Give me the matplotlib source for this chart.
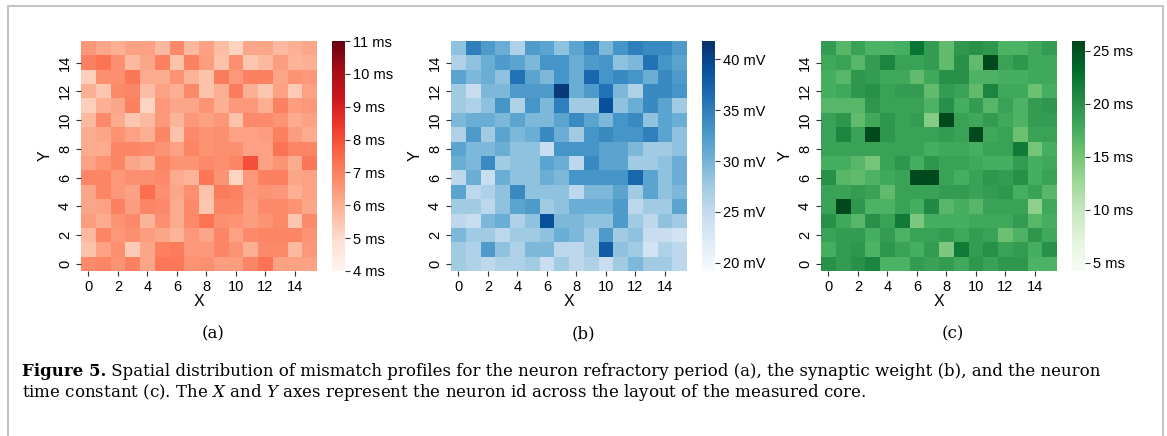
"""Spatial mismatch heatmaps (refractory period, synaptic weight, time constant)."""

import matplotlib.pyplot as plt
import numpy as np
from matplotlib.patches import Rectangle

W_PX, H_PX = 1167, 436
DPI = 100

NEURON_IDS = list(range(16))
TICK_IDS = list(range(0, 16, 2))

# rows listed from Y=15 (top) down to Y=0 (bottom)
REFRACTORY_MS = [
    [6.5, 6.2, 6.0, 6.3, 6.3, 5.8, 6.8, 5.8, 6.3, 5.7, 5.2, 6.2, 6.2, 5.8, 6.0, 6.2],
    [7.0, 7.3, 6.7, 5.8, 6.2, 7.0, 5.6, 7.0, 6.4, 5.6, 6.7, 5.5, 5.8, 6.4, 5.9, 6.0],
    [5.3, 6.7, 6.7, 7.2, 6.1, 6.1, 6.6, 5.9, 5.6, 7.1, 6.5, 7.0, 7.0, 6.2, 6.6, 6.5],
    [6.0, 5.5, 6.8, 6.9, 5.7, 6.3, 6.0, 6.8, 5.6, 6.0, 7.1, 6.0, 5.5, 6.3, 5.4, 6.3],
    [5.3, 6.0, 6.2, 7.0, 5.2, 6.5, 6.2, 6.2, 6.6, 6.0, 6.5, 6.5, 6.0, 7.0, 6.4, 6.5],
    [5.8, 6.8, 6.1, 5.5, 5.8, 6.5, 5.9, 6.5, 6.3, 6.5, 5.6, 6.8, 6.8, 6.6, 6.1, 6.3],
    [6.1, 6.2, 6.6, 6.3, 6.0, 6.9, 5.6, 6.8, 6.6, 6.7, 6.3, 6.3, 6.4, 7.0, 6.4, 6.1],
    [6.1, 6.1, 6.9, 6.9, 6.8, 6.6, 6.3, 6.9, 6.6, 6.7, 6.7, 6.3, 6.3, 7.3, 6.9, 6.9],
    [6.3, 6.6, 6.9, 6.2, 6.0, 6.9, 6.6, 6.6, 6.8, 6.7, 6.9, 8.0, 6.3, 6.6, 6.1, 7.2],
    [6.9, 6.9, 6.5, 6.7, 6.7, 6.8, 6.1, 5.9, 7.2, 6.6, 5.2, 6.5, 7.0, 7.0, 6.2, 6.3],
    [6.2, 6.9, 6.5, 6.3, 7.4, 6.7, 6.2, 6.7, 5.6, 7.1, 7.0, 6.5, 6.6, 6.5, 6.0, 6.3],
    [6.2, 6.3, 7.0, 6.4, 6.9, 6.8, 6.1, 6.8, 5.5, 6.9, 6.9, 6.4, 6.8, 6.8, 6.6, 6.2],
    [6.4, 6.1, 6.6, 6.8, 5.9, 6.7, 6.1, 6.8, 7.3, 6.7, 6.6, 6.4, 6.6, 6.8, 5.5, 6.8],
    [5.8, 6.9, 6.5, 6.7, 6.4, 6.2, 5.9, 6.5, 6.2, 6.9, 6.3, 6.8, 6.9, 6.9, 6.9, 6.6],
    [5.6, 6.3, 6.7, 5.4, 6.2, 7.0, 7.1, 6.5, 6.5, 6.9, 6.6, 6.0, 6.8, 6.8, 5.8, 6.5],
    [6.8, 6.9, 6.6, 7.0, 6.2, 7.2, 7.2, 6.6, 6.7, 6.4, 6.4, 6.9, 7.3, 6.3, 6.3, 6.3],
]

SYN_WEIGHT_MV = [
    [28.5, 35, 32.5, 30.5, 26.5, 32.5, 31.5, 28.5, 31.5, 34, 29.5, 33, 35, 34, 34, 32.5],
    [26.5, 28.5, 30.5, 32.5, 31.5, 29.5, 33, 33, 30.5, 32.5, 33, 28.5, 29.5, 36, 33, 31.5],
    [31.5, 29.5, 30.5, 28.5, 36, 31.5, 29.5, 33, 30.5, 37, 33, 34, 33, 30.5, 34, 32.5],
    [27.5, 24.5, 29.5, 29.5, 32.5, 32.5, 32.5, 41, 30.5, 32.5, 36, 29.5, 26.5, 34, 34, 33],
    [27.5, 26.5, 28.5, 33, 26.5, 33, 29.5, 35, 27.5, 27.5, 39, 28.5, 30.5, 34, 31.5, 27.5],
    [29.5, 30.5, 30.5, 29.5, 31.5, 29.5, 29.5, 31.5, 34, 31.5, 29.5, 33, 34, 28.5, 31.5, 30.5],
    [26.5, 32.5, 27.5, 31.5, 29.5, 30.5, 34, 30.5, 27.5, 33, 34, 33, 33, 35, 31.5, 28.5],
    [31.5, 29.5, 29.5, 30.5, 28.5, 28.5, 24.5, 33, 33, 33, 31.5, 31.5, 29.5, 27.5, 27.5, 28.5],
    [30.5, 29.5, 34, 27.5, 28.5, 28.5, 31.5, 30.5, 25.5, 34, 31.5, 31.5, 27.5, 27.5, 28.5, 30.5],
    [25.5, 30.5, 24.5, 30.5, 28.5, 28.5, 30.5, 29.5, 33, 33, 33, 33, 37, 31.5, 28.5, 30.5],
    [31.5, 25.5, 26.5, 28.5, 34, 28.5, 28.5, 28.5, 25.5, 29.5, 29.5, 31.5, 27.5, 31.5, 28.5, 29.5],
    [27.5, 27.5, 25.5, 28.5, 31.5, 32.5, 27.5, 28.5, 30.5, 30.5, 30.5, 32.5, 25.5, 27.5, 27.5, 31.5],
    [25.5, 24.5, 29.5, 30.5, 26.5, 28.5, 39, 29.5, 29.5, 28.5, 28.5, 32.5, 27.5, 25.5, 28.5, 27.5],
    [29.5, 27.5, 27.5, 25.5, 27.5, 27.5, 28.5, 30.5, 29.5, 27.5, 32.5, 27.5, 28.5, 24.5, 24.5, 23.5],
    [27.5, 26.5, 32.5, 28.5, 26.5, 29.5, 29.5, 25.5, 25.5, 27.5, 38, 28.5, 27.5, 23.5, 26.5, 25.5],
    [27.5, 26.5, 25.5, 26.5, 26.5, 27.5, 24.5, 27.5, 25.5, 26.5, 24.5, 27.5, 29.5, 27.5, 27.5, 25.5],
]

TIME_CONST_MS = [
    [19.0, 16.5, 18.5, 17.0, 17.0, 17.5, 22.5, 19.0, 16.0, 19.5, 20.0, 19.5, 17.0, 17.0, 18.0, 19.0],
    [18.0, 18.5, 16.5, 19.0, 21.0, 18.5, 18.5, 19.0, 16.0, 20.0, 16.0, 25.5, 18.5, 19.5, 18.0, 18.0],
    [17.5, 16.5, 19.5, 19.0, 18.0, 18.0, 16.0, 18.0, 20.0, 20.0, 17.0, 17.0, 17.5, 17.5, 18.0, 18.0],
    [17.5, 18.0, 19.5, 20.0, 18.5, 19.0, 19.0, 16.0, 19.0, 18.5, 16.0, 21.0, 18.0, 18.0, 15.5, 17.5],
    [16.5, 16.5, 16.5, 19.5, 18.5, 18.5, 18.5, 17.0, 20.0, 17.5, 19.0, 16.5, 18.5, 17.0, 19.0, 19.5],
    [18.5, 19.5, 16.0, 18.0, 19.5, 18.5, 19.0, 14.0, 25.5, 18.5, 18.0, 19.0, 18.0, 17.0, 19.0, 19.0],
    [18.5, 21.0, 18.5, 25.5, 19.5, 18.5, 18.5, 18.5, 19.0, 18.5, 25.5, 18.0, 18.5, 15.5, 18.5, 18.5],
    [18.5, 18.5, 18.5, 18.5, 18.5, 18.5, 18.5, 17.5, 18.0, 18.0, 17.5, 18.5, 18.5, 22.0, 15.0, 17.5],
    [17.5, 17.5, 16.5, 15.0, 18.5, 19.5, 17.5, 19.5, 18.5, 18.5, 18.0, 17.5, 17.5, 19.0, 17.5, 18.0],
    [20.0, 16.5, 16.0, 17.0, 18.0, 18.5, 25.5, 25.5, 18.5, 17.5, 18.5, 19.5, 19.0, 20.0, 17.5, 18.5],
    [18.5, 18.5, 19.0, 18.5, 16.0, 18.5, 18.5, 18.5, 19.0, 19.0, 18.5, 19.0, 19.5, 17.5, 18.5, 16.5],
    [18.5, 25.5, 19.5, 17.0, 17.0, 18.5, 17.5, 20.5, 16.5, 17.5, 16.5, 18.5, 18.5, 18.5, 13.5, 18.0],
    [20.0, 18.0, 16.5, 20.0, 18.5, 22.0, 14.5, 17.5, 17.5, 17.5, 18.0, 18.0, 18.0, 19.0, 16.5, 17.5],
    [18.5, 19.0, 19.0, 17.5, 19.0, 17.0, 18.5, 18.5, 19.0, 18.0, 19.0, 18.5, 15.5, 17.0, 19.5, 18.0],
    [17.5, 19.0, 19.5, 17.0, 19.5, 18.5, 17.5, 19.0, 14.5, 22.0, 19.0, 20.0, 18.5, 19.0, 17.5, 20.0],
    [20.0, 19.0, 20.0, 21.0, 17.0, 17.0, 19.0, 18.5, 19.0, 18.0, 19.5, 18.5, 19.5, 19.5, 17.0, 17.0],
]

PANELS = [
    dict(data=REFRACTORY_MS, cmap="Reds", vmin=4.0, vmax=11.0,
         cticks=[4, 5, 6, 7, 8, 9, 10, 11], unit="ms", tag="(a)", left=81),
    dict(data=SYN_WEIGHT_MV, cmap="Blues", vmin=19.2, vmax=41.8,
         cticks=[20, 25, 30, 35, 40], unit="mV", tag="(b)", left=451),
    dict(data=TIME_CONST_MS, cmap="Greens", vmin=4.2, vmax=25.9,
         cticks=[5, 10, 15, 20, 25], unit="ms", tag="(c)", left=821),
]

CAPTION_BOLD = "Figure 5."
CAPTION_LINE1 = (" Spatial distribution of mismatch profiles for the neuron "
                 "refractory period (a), the synaptic weight (b), and the neuron")
CAPTION_LINE2 = ("time constant (c). The $\\it{X}$ and $\\it{Y}$ axes represent "
                 "the neuron id across the layout of the measured core.")

SANS = ["Liberation Sans", "DejaVu Sans"]
SERIF = ["DejaVu Serif"]
CAP_SIZE = 12.0


def px_rect(left, top, width, height):
    """pixel box -> figure fraction rect."""
    return [left / W_PX, 1 - (top + height) / H_PX, width / W_PX, height / H_PX]


def draw_panel(fig, panel):
    ax = fig.add_axes(px_rect(panel["left"], 41, 236, 230))
    cax = fig.add_axes(px_rect(panel["left"] + 251, 41, 13, 230))
    grid = np.flipud(np.array(panel["data"], dtype=float))
    mesh = ax.pcolormesh(
        np.arange(17) - 0.5, np.arange(17) - 0.5, grid,
        cmap=panel["cmap"], vmin=panel["vmin"], vmax=panel["vmax"],
    )
    ax.set_xlim(-0.5, 15.5)
    ax.set_ylim(-0.5, 15.5)
    ax.set_xticks(TICK_IDS)
    ax.set_yticks(TICK_IDS)
    ax.set_xticklabels([str(t) for t in TICK_IDS], family=SANS, fontsize=10.5)
    ax.set_yticklabels([str(t) for t in TICK_IDS], family=SANS, fontsize=10.5,
                       rotation=90, va="center")
    ax.tick_params(length=3.5, width=0.8, color="#333333", pad=3)
    for spine in ax.spines.values():
        spine.set_visible(False)
    ax.set_xlabel("X", family=SANS, fontsize=11.5, labelpad=0)
    ax.set_ylabel("Y", family=SANS, fontsize=11.5, labelpad=4)

    cbar = fig.colorbar(mesh, cax=cax)
    cbar.outline.set_visible(False)
    cbar.set_ticks(panel["cticks"])
    cbar.set_ticklabels([f"{t} {panel['unit']}" for t in panel["cticks"]])
    cax.tick_params(length=3.5, width=0.8, color="#333333", pad=2)
    for lab in cax.get_yticklabels():
        lab.set_family(SANS)
        lab.set_fontsize(10.5)

    fig.text((panel["left"] + 132) / W_PX, 1 - 334 / H_PX, panel["tag"],
             family=SERIF, fontsize=12, ha="center", va="center")


def main():
    fig = plt.figure(figsize=(W_PX / DPI, H_PX / DPI), dpi=DPI)
    fig.patches.append(Rectangle(
        (7.5 / W_PX, -0.1), (1163 - 7.5) / W_PX, 1.1 - 6 / H_PX,
        transform=fig.transFigure, fill=False, edgecolor="#c4c4c4", linewidth=1.5,
    ))
    for panel in PANELS:
        draw_panel(fig, panel)

    x0 = 22 / W_PX
    y1 = 1 - 376 / H_PX
    y2 = 1 - 397 / H_PX
    bold = fig.text(x0, y1, CAPTION_BOLD, family=SERIF, fontsize=CAP_SIZE,
                    weight="bold", va="baseline")
    renderer = fig.canvas.get_renderer()
    bold_right = fig.transFigure.inverted().transform(
        bold.get_window_extent(renderer))[1, 0]
    fig.text(bold_right, y1, CAPTION_LINE1, family=SERIF, fontsize=CAP_SIZE,
             va="baseline")
    fig.text(x0, y2, CAPTION_LINE2, family=SERIF, fontsize=CAP_SIZE,
             va="baseline", math_fontfamily="dejavuserif")

    fig.savefig("out.png", dpi=DPI)


if __name__ == "__main__":
    main()
